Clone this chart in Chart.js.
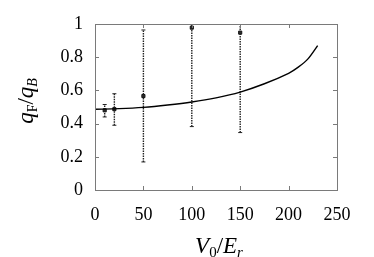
<!DOCTYPE html>
<html>
<head>
<meta charset="utf-8">
<script src="https://cdn.jsdelivr.net/npm/chart.js@4/dist/chart.umd.min.js"></script>
<style>
  html, body { margin: 0; padding: 0; background: #fff; }
  #wrap { width: 374px; height: 257px; }
</style>
</head>
<body>
<div id="wrap"><canvas id="chart" width="374" height="257"></canvas></div>
<script>
// measured points with error bars
var pointX = [10, 20, 50, 100, 150];
var pointY = [0.48, 0.487, 0.566, 0.978, 0.948];
var errLow = [0.44, 0.39, 0.169, 0.382, 0.346];
var errHigh = [0.515, 0.58, 0.964, 1.0, 1.0];

// theory curve
var curveX = [0, 25, 50, 75, 100, 125, 150, 175, 200, 210, 220, 230];
var curveY = [0.486, 0.49, 0.498, 0.512, 0.53, 0.555, 0.59, 0.64, 0.703, 0.74, 0.79, 0.87];

var xTicks = [0, 50, 100, 150, 200, 250];
var yTicks = [0, 0.2, 0.4, 0.6, 0.8, 1];

var black = '#000';
var frameColor = '#7a7a7a';
var serif = 'Liberation Serif';

Chart.defaults.font.family = serif;

var datasets = [];

datasets.push({
    type: 'line',
    data: curveX.map(function (x, i) { return { x: x, y: curveY[i] }; }),
    borderColor: black,
    borderWidth: 1.4,
    pointRadius: 0,
    tension: 0.3,
    fill: false
});

for (var i = 0; i < pointX.length; i++) {
    datasets.push({
        type: 'line',
        data: [{ x: pointX[i], y: errLow[i] }, { x: pointX[i], y: errHigh[i] }],
        borderColor: '#222',
        borderWidth: 1.4,
        borderDash: [1.5, 1],
        pointStyle: 'line',
        pointRadius: 2,
        pointBorderWidth: 1,
        pointBorderColor: '#222',
        fill: false
    });
}

datasets.push({
    type: 'scatter',
    data: pointX.map(function (x, i) { return { x: x, y: pointY[i] }; }),
    pointStyle: 'rect',
    pointRadius: 2.2,
    backgroundColor: '#333',
    borderColor: '#111',
    borderWidth: 1
});

// inward ticks on all four sides plus the frame
var frameTicks = {
    id: 'frameTicks',
    afterDatasetsDraw: function (chart) {
        var ctx = chart.ctx;
        var a = chart.chartArea;
        var xs = chart.scales.x, ys = chart.scales.y;
        var len = 4;
        ctx.save();
        ctx.strokeStyle = frameColor;
        ctx.lineWidth = 1;
        ctx.strokeRect(a.left + 0.5, a.top + 0.5, a.right - a.left, a.bottom - a.top);
        ctx.beginPath();
        xTicks.forEach(function (v) {
            var px = Math.round(xs.getPixelForValue(v)) + 0.5;
            ctx.moveTo(px, a.bottom); ctx.lineTo(px, a.bottom - len);
            ctx.moveTo(px, a.top); ctx.lineTo(px, a.top + len);
        });
        yTicks.forEach(function (v) {
            var py = Math.round(ys.getPixelForValue(v)) + 0.5;
            ctx.moveTo(a.left, py); ctx.lineTo(a.left + len, py);
            ctx.moveTo(a.right, py); ctx.lineTo(a.right - len, py);
        });
        ctx.stroke();
        ctx.restore();
    }
};

// axis titles with sub-scripts
function drawParts(ctx, parts, x, y) {
    var total = 0;
    parts.forEach(function (p) {
        ctx.font = p.font;
        p.w = ctx.measureText(p.t).width;
        total += p.w;
    });
    var cx = x - total / 2;
    parts.forEach(function (p) {
        ctx.font = p.font;
        ctx.fillText(p.t, cx, y + (p.dy || 0));
        cx += p.w;
    });
}

var axisTitles = {
    id: 'axisTitles',
    afterDraw: function (chart) {
        var ctx = chart.ctx;
        ctx.save();
        ctx.fillStyle = black;
        ctx.textBaseline = 'alphabetic';
        drawParts(ctx, [
            { t: 'V', font: 'italic 23px ' + serif },
            { t: '0', font: '15px ' + serif, dy: 4 },
            { t: '/', font: '23px ' + serif },
            { t: 'E', font: 'italic 23px ' + serif },
            { t: 'r', font: 'italic 15px ' + serif, dy: 4 }
        ], 219, 253);

        ctx.translate(33, 101);
        ctx.rotate(-Math.PI / 2);
        drawParts(ctx, [
            { t: 'q', font: 'italic 23px ' + serif },
            { t: 'F', font: '14px ' + serif, dy: 4 },
            { t: '/', font: '23px ' + serif },
            { t: 'q', font: 'italic 23px ' + serif },
            { t: 'B', font: 'italic 14px ' + serif, dy: 4 }
        ], 0, 0);
        ctx.restore();
    }
};

new Chart(document.getElementById('chart').getContext('2d'), {
    type: 'line',
    data: { datasets: datasets },
    options: {
        responsive: false,
        animation: false,
        events: [],
        layout: { padding: { top: 24, right: 37, left: 0, bottom: 0 } },
        plugins: { legend: { display: false }, tooltip: { enabled: false } },
        scales: {
            x: {
                type: 'linear',
                min: 0, max: 250,
                afterBuildTicks: function (s) { s.ticks = xTicks.map(function (v) { return { value: v }; }); },
                afterFit: function (s) { s.height = 67; },
                grid: { display: false, drawTicks: false },
                border: { display: false },
                ticks: { color: black, padding: 14, maxRotation: 0, font: { family: serif, size: 18 } }
            },
            y: {
                min: 0, max: 1,
                afterBuildTicks: function (s) { s.ticks = yTicks.map(function (v) { return { value: v }; }); },
                afterFit: function (s) { s.width = 95; },
                grid: { display: false, drawTicks: false },
                border: { display: false },
                ticks: {
                    color: black, padding: 12, font: { family: serif, size: 18 },
                    callback: function (v) { return String(Math.round(v * 10) / 10); }
                }
            }
        }
    },
    plugins: [frameTicks, axisTitles]
});
</script>
</body>
</html>
